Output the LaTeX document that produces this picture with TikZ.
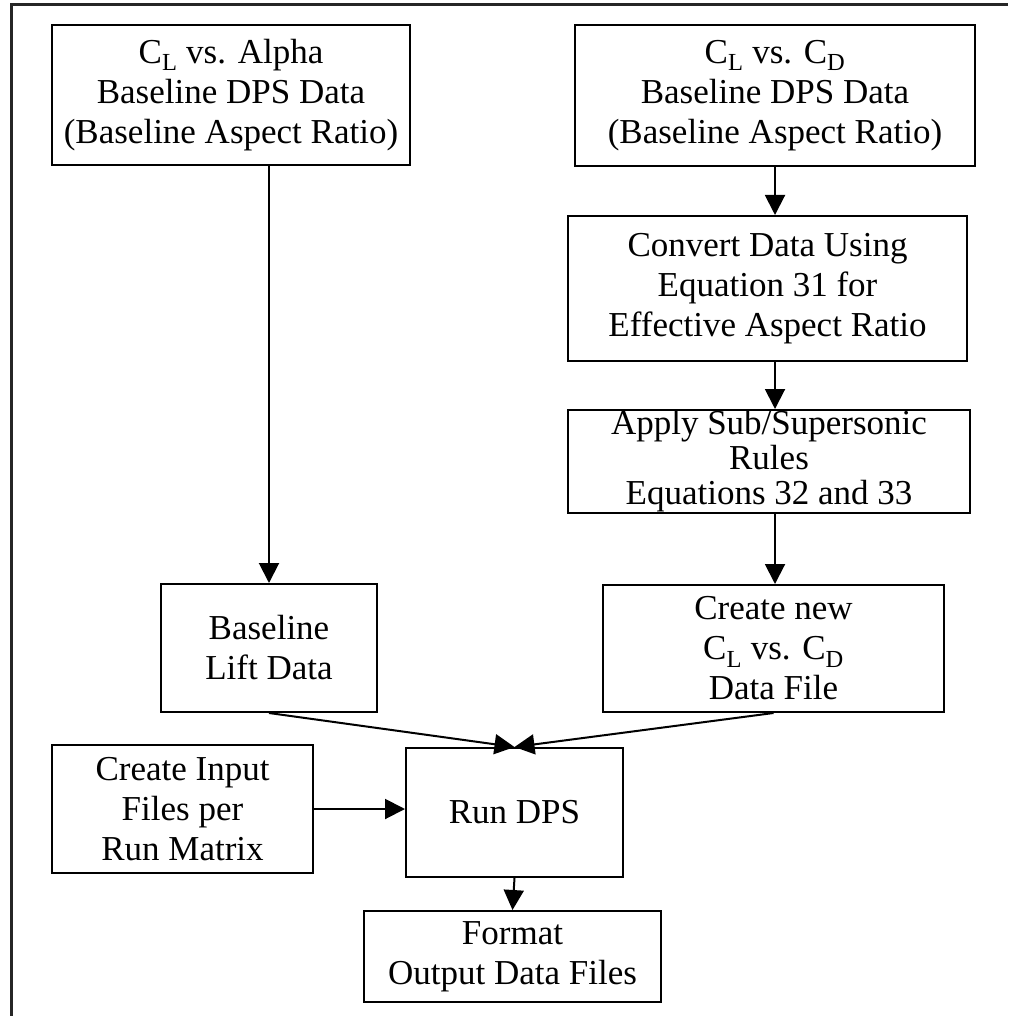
\documentclass[tikz,border=0pt]{standalone}
\usepackage{fontspec}
\setmainfont{Liberation Serif}
\usetikzlibrary{arrows.meta}

\begin{document}
\begin{tikzpicture}[x=1pt,y=-1pt,
   bloc/.style={draw,line width=2pt,align=center,inner sep=0pt,
                font=\fontsize{35}{40}\selectfont},
   fleche/.style={-{Triangle[length=20pt,width=20pt]},line width=2pt}]
         \useasboundingbox (0,0) rectangle (1008,1016) ;
         % cadre
         \draw[line width=3pt,black!85] (1008,5) -- (11,5) -- (11,1016) ;
         % colonne de gauche
         \node[bloc,minimum width=358pt,minimum height=140pt] (alpha) at (231,95)
              {C\textsubscript{L} vs. Alpha\\Baseline DPS Data\\(Baseline Aspect Ratio)} ;
         \node[bloc,minimum width=216pt,minimum height=128pt] (lift) at (269,648)
              {Baseline\\Lift Data} ;
         % colonne de droite
         \node[bloc,minimum width=400pt,minimum height=141pt] (polar) at (775,95.5)
              {C\textsubscript{L} vs. C\textsubscript{D}\\Baseline DPS Data\\(Baseline Aspect Ratio)} ;
         \node[bloc,minimum width=399pt,minimum height=145pt] (convert) at (767.5,288.5)
              {Convert Data Using\\Equation 31 for\\Effective Aspect Ratio} ;
         \node[bloc,minimum width=402pt,minimum height=103pt,
               font=\fontsize{35}{35}\selectfont] (apply) at (769,461.5)
              {Apply Sub/Supersonic\\Rules\\Equations 32 and 33} ;
         \node[bloc,minimum width=341pt,minimum height=127pt] (newfile) at (773.5,648.5)
              {Create new\\C\textsubscript{L} vs. C\textsubscript{D}\\Data File} ;
         % bas
         \node[bloc,minimum width=261pt,minimum height=128pt] (input) at (182.5,809)
              {Create Input\\Files per\\Run Matrix} ;
         \node[bloc,minimum width=217pt,minimum height=129pt] (run) at (514.5,812.5)
              {Run DPS} ;
         \node[bloc,minimum width=297pt,minimum height=91pt] (format) at (512.5,956.5)
              {Format\\Output Data Files} ;
         % fleches
         \draw[fleche] (alpha.south -| lift.north) -- (lift.north) ;
         \draw[fleche] (polar.south) -- (polar.south |- convert.north) ;
         \draw[fleche] (convert.south -| polar.south) -- (polar.south |- apply.north) ;
         \draw[fleche] (apply.south -| polar.south) -- (polar.south |- newfile.north) ;
         \draw[fleche] (lift.south) -- (run.north) ;
         \draw[fleche] (newfile.south) -- (run.north) ;
         \draw[fleche] (input.east) -- (run.west |- input.east) ;
         \draw[fleche] (run.south) -- (format.north) ;
      \end{tikzpicture}
\end{document}
